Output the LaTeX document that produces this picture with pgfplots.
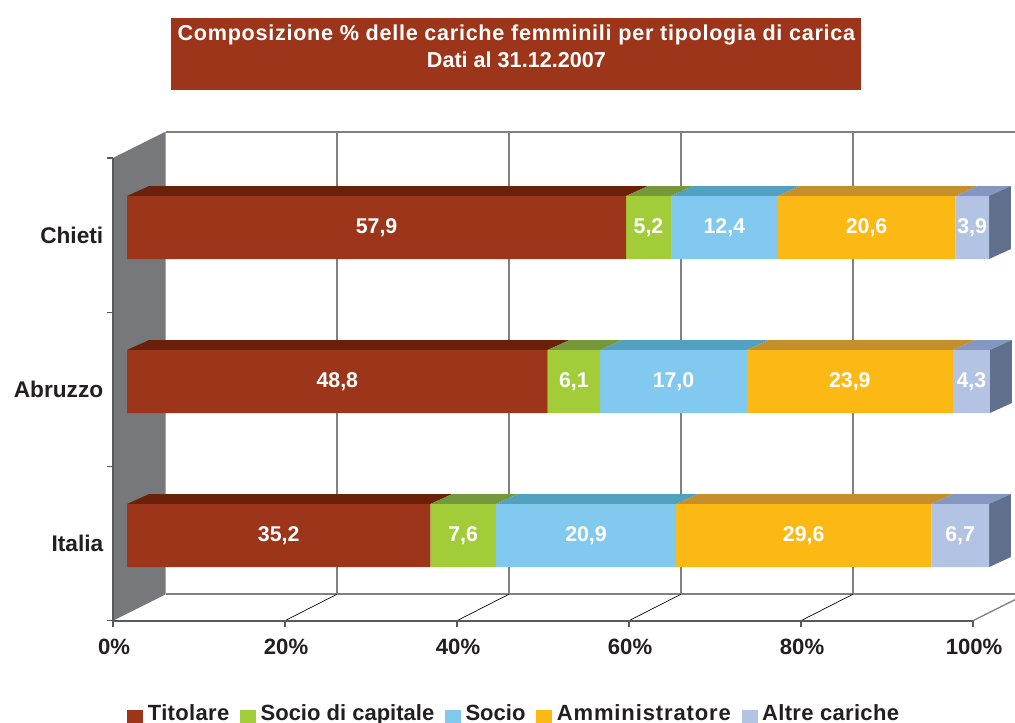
\documentclass[border=0pt]{standalone}
\usepackage{fontspec}
\setmainfont{Liberation Sans}
\usepackage{pgfplots}
\pgfplotsset{compat=1.18}
\definecolor{cTit}{HTML}{9C3519}\definecolor{cTitT}{HTML}{6B2109}
\definecolor{cCap}{HTML}{A2CD39}\definecolor{cCapT}{HTML}{75983A}
\definecolor{cSoc}{HTML}{82C9F0}\definecolor{cSocT}{HTML}{52A1C0}
\definecolor{cAmm}{HTML}{FDB913}\definecolor{cAmmT}{HTML}{C48F2C}
\definecolor{cAlt}{HTML}{B3C3E3}\definecolor{cAltT}{HTML}{8497C1}
\definecolor{cAltS}{HTML}{5F6F8C}
\definecolor{cWall}{HTML}{77787B}\definecolor{cGrid}{HTML}{808080}\definecolor{cAxis}{HTML}{58595B}
\definecolor{cText}{HTML}{231F20}
\newcommand{\lab}{\fontsize{16}{19}\selectfont\bfseries}
\begin{document}
\begin{tikzpicture}
\useasboundingbox (0pt,0pt) rectangle (761.25pt,541.5pt);
\fill[cTit] (128.25pt,474pt) rectangle (645.75pt,528pt);
\node[text=white,inner sep=0pt,align=center,
  font=\fontsize{16.2}{20.25}\selectfont\bfseries] at (387.3pt,507pt)
  {\addfontfeature{LetterSpace=3.3}Composizione \% delle cariche femminili per tipologia di carica\\Dati al 31.12.2007};
% frame: walls, grid, ticks
\begin{axis}[at={(84.75pt,76pt)},anchor=south west,scale only axis,width=645pt,height=347pt,
  xmin=0,xmax=100,ymin=0,ymax=3,clip=false,axis on top=true,
  axis x line*=bottom,axis y line*=left,axis line style={-,cAxis,line width=1.5pt},
  tick align=outside,major tick length=4.5pt,tick style={cAxis,line width=0.9pt},
  xtick={0,20,40,60,80,100},xticklabels={0\%,20\%,40\%,60\%,80\%,100\%},
  ytick={0,1,2,3},yticklabels={},
  extra y ticks={0.5,1.5,2.5},extra y tick labels={Italia,Abruzzo,Chieti},
  extra y tick style={major tick length=0pt,tick style={draw=none}},
  tick label style={text=cText},
  xticklabel style={yshift=-5.5pt,xshift=0.8pt,font=\fontsize{16.6}{19}\selectfont\bfseries},
  yticklabel style={xshift=-3.8pt,font=\fontsize{17}{20}\selectfont\bfseries}]
\addplot[fill=cWall,draw=none,no markers] coordinates {(0,0)(6.116,0.1706)(6.116,3.1706)(0,3)} -- cycle;
\addplot[cGrid,line width=1.6pt,no markers] coordinates {(6.116,3.1706)(104.88,3.1706)};
\addplot[cGrid,line width=1.6pt,no markers] coordinates {(6.116,0.1706)(104.88,0.1706)};
\addplot[cGrid,line width=1.5pt,no markers] coordinates {(26.02,0.1706)(26.02,3.1706)};
\addplot[cGrid,line width=1.5pt,no markers] coordinates {(46.02,0.1706)(46.02,3.1706)};
\addplot[cGrid,line width=1.5pt,no markers] coordinates {(66.02,0.1706)(66.02,3.1706)};
\addplot[cGrid,line width=1.5pt,no markers] coordinates {(86.02,0.1706)(86.02,3.1706)};
\addplot[black,line width=0.5pt,no markers] coordinates {(20,0)(26.02,0.1706)};
\addplot[black,line width=0.5pt,no markers] coordinates {(40,0)(46.02,0.1706)};
\addplot[black,line width=0.5pt,no markers] coordinates {(60,0)(66.02,0.1706)};
\addplot[black,line width=0.5pt,no markers] coordinates {(80,0)(86.02,0.1706)};
\addplot[cGrid,line width=1pt,no markers] coordinates {(100,0)(104.88,0.136)};
\end{axis}
% top and side faces of the bars
\begin{axis}[at={(95.25pt,82.1pt)},anchor=south west,scale only axis,width=646.5pt,height=346.5pt,
  xmin=0,xmax=100,ymin=-0.5,ymax=2.5,clip=false,hide axis,no markers]
\addplot[fill=cTitT,draw=none] coordinates {(0,2.2045)(57.9,2.2045)(60.45,2.2695)(2.55,2.2695)} -- cycle;
\addplot[fill=cCapT,draw=none] coordinates {(57.9,2.2045)(63.1,2.2045)(65.65,2.2695)(60.45,2.2695)} -- cycle;
\addplot[fill=cSocT,draw=none] coordinates {(63.1,2.2045)(75.5,2.2045)(78.05,2.2695)(65.65,2.2695)} -- cycle;
\addplot[fill=cAmmT,draw=none] coordinates {(75.5,2.2045)(96.1,2.2045)(98.65,2.2695)(78.05,2.2695)} -- cycle;
\addplot[fill=cAltT,draw=none] coordinates {(96.1,2.2045)(100,2.2045)(102.55,2.2695)(98.65,2.2695)} -- cycle;
\addplot[fill=cAltS,draw=none] coordinates {(100,1.7955)(102.55,1.8605)(102.55,2.2695)(100,2.2045)} -- cycle;
\addplot[fill=cTitT,draw=none] coordinates {(0,1.2045)(48.8,1.2045)(51.35,1.2695)(2.55,1.2695)} -- cycle;
\addplot[fill=cCapT,draw=none] coordinates {(48.8,1.2045)(54.9,1.2045)(57.45,1.2695)(51.35,1.2695)} -- cycle;
\addplot[fill=cSocT,draw=none] coordinates {(54.9,1.2045)(71.9,1.2045)(74.45,1.2695)(57.45,1.2695)} -- cycle;
\addplot[fill=cAmmT,draw=none] coordinates {(71.9,1.2045)(95.8,1.2045)(98.35,1.2695)(74.45,1.2695)} -- cycle;
\addplot[fill=cAltT,draw=none] coordinates {(95.8,1.2045)(100.1,1.2045)(102.65,1.2695)(98.35,1.2695)} -- cycle;
\addplot[fill=cAltS,draw=none] coordinates {(100.1,0.7955)(102.65,0.8605)(102.65,1.2695)(100.1,1.2045)} -- cycle;
\addplot[fill=cTitT,draw=none] coordinates {(0,0.2045)(35.2,0.2045)(37.75,0.2695)(2.55,0.2695)} -- cycle;
\addplot[fill=cCapT,draw=none] coordinates {(35.2,0.2045)(42.8,0.2045)(45.35,0.2695)(37.75,0.2695)} -- cycle;
\addplot[fill=cSocT,draw=none] coordinates {(42.8,0.2045)(63.7,0.2045)(66.25,0.2695)(45.35,0.2695)} -- cycle;
\addplot[fill=cAmmT,draw=none] coordinates {(63.7,0.2045)(93.3,0.2045)(95.85,0.2695)(66.25,0.2695)} -- cycle;
\addplot[fill=cAltT,draw=none] coordinates {(93.3,0.2045)(100,0.2045)(102.55,0.2695)(95.85,0.2695)} -- cycle;
\addplot[fill=cAltS,draw=none] coordinates {(100,-0.2045)(102.55,-0.1395)(102.55,0.2695)(100,0.2045)} -- cycle;
\end{axis}
% front faces of the bars, with the legend
\begin{axis}[at={(95.25pt,82.1pt)},anchor=south west,scale only axis,width=646.5pt,height=346.5pt,
  xmin=0,xmax=100,ymin=-0.5,ymax=2.5,clip=false,hide axis,xbar stacked,bar width=47.25pt,
  legend columns=-1,
  legend style={at={(0,-0.2195)},anchor=west,draw=none,fill=none,inner sep=0pt,
    font=\fontsize{16.5}{19}\selectfont\bfseries,text=cText,
    /tikz/every even column/.append style={column sep=6pt},
    /tikz/every odd column/.append style={column sep=1.5pt}},
  legend image code/.code={\fill[#1,draw=none] (0pt,-10pt) rectangle (12pt,2pt);},
  legend cell align=left]
\addplot[fill=cTit,draw=none] coordinates {(35.2,0)(48.8,1)(57.9,2)};
\addplot[fill=cCap,draw=none] coordinates {(7.6,0)(6.1,1)(5.2,2)};
\addplot[fill=cSoc,draw=none] coordinates {(20.9,0)(17.0,1)(12.4,2)};
\addplot[fill=cAmm,draw=none] coordinates {(29.6,0)(23.9,1)(20.6,2)};
\addplot[fill=cAlt,draw=none] coordinates {(6.7,0)(4.3,1)(3.9,2)};
\legend{{\addfontfeature{LetterSpace=1.5}Titolare},Socio di capitale,Socio,{\addfontfeature{LetterSpace=4}Amministratore},{\addfontfeature{LetterSpace=1.5}Altre cariche}}
\end{axis}
% value labels
\begin{axis}[at={(95.25pt,82.1pt)},anchor=south west,scale only axis,width=646.5pt,height=346.5pt,
  xmin=0,xmax=100,ymin=-0.5,ymax=2.5,clip=false,hide axis]
\addplot[only marks,mark=none,point meta=explicit symbolic,nodes near coords,
  every node near coord/.style={anchor=center,text=white,font=\lab,yshift=-0.5pt}]
  table[x=x,y=y,meta=l] {
x y l
17.6 0 35,2
39.0 0 7,6
53.25 0 20,9
78.5 0 29,6
96.65 0 6,7
24.4 1 48,8
51.85 1 6,1
63.4 1 17,0
83.85 1 23,9
97.95 1 4,3
28.95 2 57,9
60.5 2 5,2
69.3 2 12,4
85.8 2 20,6
98.05 2 3,9
};
\end{axis}
\end{tikzpicture}
\end{document}
